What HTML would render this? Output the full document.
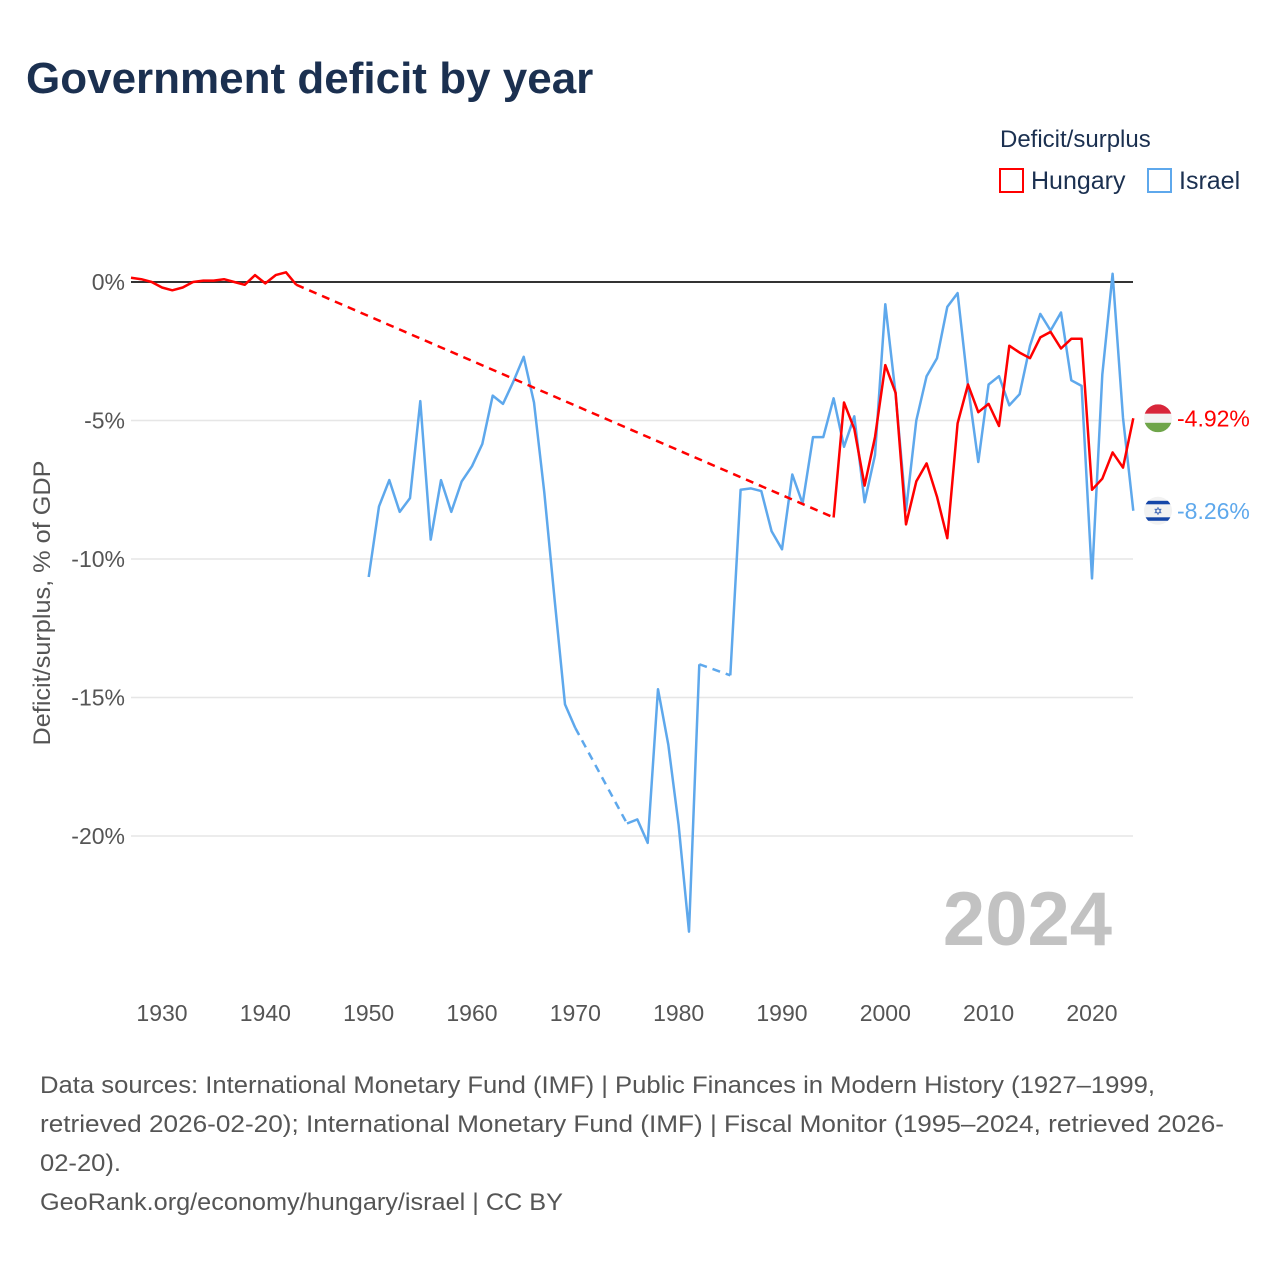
<!DOCTYPE html>
<html><head><meta charset="utf-8"><style>
body{margin:0;background:#fff;font-family:"Liberation Sans",sans-serif}
svg text{font-family:"Liberation Sans",sans-serif}
</style></head><body>
<svg id="c" width="1280" height="1280" xmlns="http://www.w3.org/2000/svg">
<text x="26" y="93" font-size="44" font-weight="bold" fill="#1b3050">Government deficit by year</text>
<text x="1000" y="147" font-size="24" fill="#1b3050">Deficit/surplus</text>
<g><rect x="1000" y="169" width="23" height="23" fill="none" stroke="#ff0000" stroke-width="2"/><text x="1031" y="189" font-size="25" fill="#1b3050">Hungary</text></g>
<g><rect x="1148" y="169" width="23" height="23" fill="none" stroke="#5ea8ec" stroke-width="2"/><text x="1179" y="189" font-size="25" fill="#1b3050">Israel</text></g>
<g id="grid"></g><g id="axes"></g><g id="series"></g>
<text x="1112" y="945" font-size="76" font-weight="bold" fill="#c2c2c2" text-anchor="end">2024</text>
<text transform="translate(50,603) rotate(-90)" font-size="24" fill="#555" text-anchor="middle" textLength="285" lengthAdjust="spacingAndGlyphs">Deficit/surplus, % of GDP</text>
<g font-size="24" fill="#555">
<text x="40" y="1093" textLength="1115" lengthAdjust="spacingAndGlyphs">Data sources: International Monetary Fund (IMF) | Public Finances in Modern History (1927–1999,</text>
<text x="40" y="1132" textLength="1184" lengthAdjust="spacingAndGlyphs">retrieved 2026-02-20); International Monetary Fund (IMF) | Fiscal Monitor (1995–2024, retrieved 2026-</text>
<text x="40" y="1171" textLength="81" lengthAdjust="spacingAndGlyphs">02-20).</text>
<text x="40" y="1210" textLength="523" lengthAdjust="spacingAndGlyphs">GeoRank.org/economy/hungary/israel | CC BY</text>
</g>
</svg>
<script>
const yTicks=[0,-5,-10,-15,-20];
const xTicks=[1930,1940,1950,1960,1970,1980,1990,2000,2010,2020];
const huYears=[1927,1928,1929,1930,1931,1932,1933,1934,1935,1936,1937,1938,1939,1940,1941,1942,1943,1995,1996,1997,1998,1999,2000,2001,2002,2003,2004,2005,2006,2007,2008,2009,2010,2011,2012,2013,2014,2015,2016,2017,2018,2019,2020,2021,2022,2023,2024];
const huVals=[0.15,0.1,0,-0.2,-0.3,-0.2,0,0.05,0.05,0.1,0,-0.1,0.25,-0.05,0.25,0.35,-0.1,-8.5,-4.35,-5.3,-7.35,-5.6,-3.0,-4.0,-8.75,-7.2,-6.55,-7.75,-9.25,-5.1,-3.7,-4.7,-4.4,-5.2,-2.3,-2.55,-2.75,-2.0,-1.8,-2.4,-2.05,-2.05,-7.5,-7.1,-6.15,-6.7,-4.92];
const ilYears=[1950,1951,1952,1953,1954,1955,1956,1957,1958,1959,1960,1961,1962,1963,1964,1965,1966,1967,1968,1969,1970,1975,1976,1977,1978,1979,1980,1981,1982,1985,1986,1987,1988,1989,1990,1991,1992,1993,1994,1995,1996,1997,1998,1999,2000,2001,2002,2003,2004,2005,2006,2007,2008,2009,2010,2011,2012,2013,2014,2015,2016,2017,2018,2019,2020,2021,2022,2023,2024];
const ilVals=[-10.65,-8.1,-7.15,-8.3,-7.8,-4.3,-9.3,-7.15,-8.3,-7.2,-6.65,-5.85,-4.1,-4.4,-3.6,-2.7,-4.35,-7.6,-11.5,-15.25,-16.1,-19.55,-19.4,-20.25,-14.7,-16.7,-19.6,-23.45,-13.8,-14.2,-7.5,-7.45,-7.55,-9.0,-9.65,-6.95,-8.0,-5.6,-5.6,-4.2,-5.95,-4.85,-7.95,-6.25,-0.8,-4.05,-8.25,-5.0,-3.4,-2.75,-0.9,-0.4,-3.75,-6.5,-3.7,-3.4,-4.45,-4.05,-2.3,-1.15,-1.75,-1.1,-3.55,-3.75,-10.7,-3.35,0.3,-4.9,-8.26];
const NS='http://www.w3.org/2000/svg';
const X=yr=>162+(yr-1930)*10.333;
const Y=v=>282-v*27.7;
function mk(tag,attrs,parent){const e=document.createElementNS(NS,tag);for(const k in attrs)e.setAttribute(k,attrs[k]);parent.appendChild(e);return e;}
const grid=document.getElementById('grid'),axes=document.getElementById('axes'),ser=document.getElementById('series');
yTicks.forEach(t=>{
 if(t!==0){const l=mk('line',{x1:131,x2:1133,y1:Y(t),y2:Y(t),stroke:'#e6e6e6','stroke-width':1.5},grid);
 
 }
 const tx=mk('text',{x:125,y:Y(t)+8,'font-size':23,fill:'#555','text-anchor':'end'},axes);tx.textContent=t+'%';
 
 
});
xTicks.forEach(t=>{const tx=mk('text',{x:X(t),y:1021,'font-size':23,fill:'#555','text-anchor':'middle'},axes);tx.textContent=t;
 
 });
const zl=mk('line',{x1:131,x2:1133,y1:Y(0),y2:Y(0),stroke:'#333','stroke-width':2},axes);


function draw(years,vals,color,name){
 const g=mk('g',{},ser);
 
 
 let seg=[];
 const flush=()=>{if(seg.length>1)mk('polyline',{points:seg.join(' '),fill:'none',stroke:color,'stroke-width':2.5,'stroke-linejoin':'round'},g);};
 for(let i=0;i<years.length;i++){
  if(i>0&&years[i]-years[i-1]>1){flush();seg=[];
   mk('line',{x1:X(years[i-1]),y1:Y(vals[i-1]),x2:X(years[i]),y2:Y(vals[i]),stroke:color,'stroke-width':2.5,'stroke-dasharray':'8,6'},g);}
  seg.push(X(years[i]).toFixed(1)+','+Y(vals[i]).toFixed(1));
 }
 flush();
}
draw(ilYears,ilVals,'#5ea8ec','israel');
draw(huYears,huVals,'#ff0000','hungary');
const hv=huVals[huVals.length-1],iv=ilVals[ilVals.length-1];
const hf=mk('g',{},ser);


const cy=Y(hv);
const cp1=mk('clipPath',{id:'cl1'},hf);
mk('circle',{cx:1158,cy:cy,r:14},cp1);
mk('rect',{x:1144,y:cy-14,width:28,height:9.5,fill:'#d8263a','clip-path':'url(#cl1)'},hf);
mk('rect',{x:1144,y:cy-4.5,width:28,height:9,fill:'#f2f2f2','clip-path':'url(#cl1)'},hf);
mk('rect',{x:1144,y:cy+4.5,width:28,height:9.5,fill:'#6fa54a','clip-path':'url(#cl1)'},hf);
const ht=mk('text',{x:1177,y:cy+8,'font-size':23,fill:'#ff0000'},ser);ht.textContent=hv.toFixed(2)+'%';


const iff=mk('g',{},ser);


const iy=Y(iv);
mk('circle',{cx:1158,cy:iy,r:14,fill:'#f2f2f2'},iff);
const cp2=mk('clipPath',{id:'cl2'},iff);
mk('circle',{cx:1158,cy:iy,r:14},cp2);
mk('rect',{x:1144,y:iy-10,width:28,height:3.5,fill:'#1546a8','clip-path':'url(#cl2)'},iff);
mk('rect',{x:1144,y:iy+6.5,width:28,height:3.5,fill:'#1546a8','clip-path':'url(#cl2)'},iff);
const st=mk('text',{x:1158,y:iy+4,'font-size':11,fill:'#1546a8','text-anchor':'middle'},iff);st.textContent='✡';
const it=mk('text',{x:1177,y:iy+8,'font-size':23,fill:'#5ea8ec'},ser);it.textContent=iv.toFixed(2)+'%';


</script>
</body></html>
